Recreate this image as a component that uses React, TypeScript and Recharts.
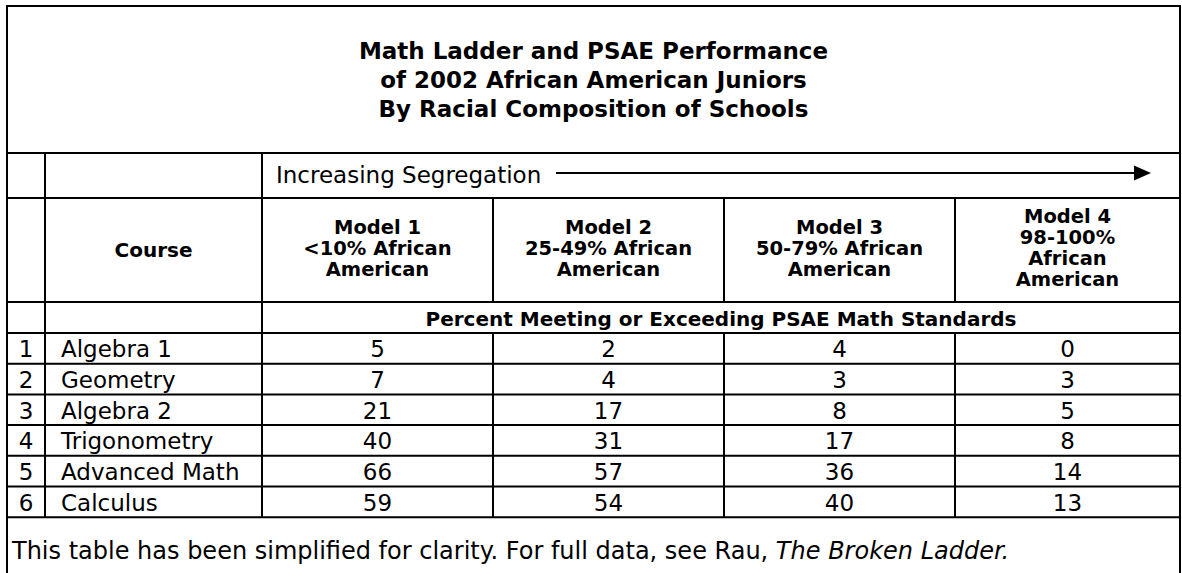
import React from 'react';
import { ComposedChart, Customized } from 'recharts';

const titleLines = [
  'Math Ladder and PSAE Performance',
  'of 2002 African American Juniors',
  'By Racial Composition of Schools',
];
const modelHeaders = [
  ['Model 1', '<10% African', 'American'],
  ['Model 2', '25-49% African', 'American'],
  ['Model 3', '50-79% African', 'American'],
  ['Model 4', '98-100%', 'African', 'American'],
];
const courses = ['Algebra 1', 'Geometry', 'Algebra 2', 'Trigonometry', 'Advanced Math', 'Calculus'];
const model1 = [5, 7, 21, 40, 66, 59];
const model2 = [2, 4, 17, 31, 57, 54];
const model3 = [4, 3, 8, 17, 36, 40];
const model4 = [0, 3, 5, 8, 14, 13];
const subHeader = 'Percent Meeting or Exceeding PSAE Math Standards';
const footnote = 'This table has been simplified for clarity. For full data, see Rau, ';
const footnoteBook = 'The Broken Ladder.';

const W = 1182;
const H = 573;
const FONT = '"DejaVu Sans", Verdana, sans-serif';

// table grid
const L = 7;
const R = 1180;
const TOP = 6;
const colX = [7, 45, 262, 493, 724, 955, 1180];
const yTitle = 153;
const ySeg = 198;
const yHead = 302;
const ySub = 333;
const rowH = 30.7;

const TableLayer = () => {
  const values = [model1, model2, model3, model4];
  const rowsBottom = ySub + rowH * courses.length;
  const line = (x1: number, y1: number, x2: number, y2: number, k: string) => (
    <line key={k} x1={x1} y1={y1} x2={x2} y2={y2} stroke="#000" strokeWidth={2} />
  );
  const lines: React.ReactNode[] = [];
  lines.push(<rect key="box" x={L} y={TOP} width={R - L} height={H + 20} fill="#fff" stroke="#000" strokeWidth={2} />);
  [yTitle, ySeg, yHead, ySub].forEach((y, i) => lines.push(line(L, y, R, y, 'h' + i)));
  courses.forEach((_, i) => {
    const y = ySub + rowH * (i + 1);
    lines.push(line(L, y, R, y, 'r' + i));
  });
  lines.push(line(colX[1], yTitle, colX[1], rowsBottom, 'c1'));
  lines.push(line(colX[2], yTitle, colX[2], rowsBottom, 'c2'));
  [3, 4, 5].forEach((c) => {
    lines.push(line(colX[c], ySeg, colX[c], yHead, 'ca' + c));
    lines.push(line(colX[c], ySub, colX[c], rowsBottom, 'cb' + c));
  });

  const headCy = 248;
  const lh = 21;

  return (
    <g fontFamily={FONT} fill="#000">
      {lines}
      {titleLines.map((t, i) => (
        <text key={t} x={(L + R) / 2} y={51 + i * 29} textAnchor="middle" dominantBaseline="central" fontWeight="bold" fontSize={23}>
          {t}
        </text>
      ))}
      <text x={276} y={175} dominantBaseline="central" fontSize={23}>
        Increasing Segregation
      </text>
      <line x1={556} y1={173} x2={1137} y2={173} stroke="#000" strokeWidth={2} />
      <polygon points="1134,165.5 1151,173 1134,180.5" fill="#000" />
      <text x={(colX[1] + colX[2]) / 2} y={250} textAnchor="middle" dominantBaseline="central" fontWeight="bold" fontSize={20}>
        Course
      </text>
      {modelHeaders.map((h, c) => {
        const cx = (colX[c + 2] + colX[c + 3]) / 2;
        const y0 = headCy - ((h.length - 1) * lh) / 2;
        return h.map((t, j) => (
          <text key={c + '-' + j} x={cx} y={y0 + j * lh} textAnchor="middle" dominantBaseline="central" fontWeight="bold" fontSize={19.5}>
            {t}
          </text>
        ));
      })}
      <text x={(colX[2] + R) / 2} y={(yHead + ySub) / 2 + 1} textAnchor="middle" dominantBaseline="central" fontWeight="bold" fontSize={20}>
        {subHeader}
      </text>
      {courses.map((name, i) => {
        const cy = ySub + rowH * i + rowH / 2 + 1;
        return (
          <g key={name}>
            <text x={(colX[0] + colX[1]) / 2} y={cy} textAnchor="middle" dominantBaseline="central" fontSize={23}>
              {i + 1}
            </text>
            <text x={61} y={cy} dominantBaseline="central" fontSize={23}>
              {name}
            </text>
            {values.map((v, c) => (
              <text key={c} x={(colX[c + 2] + colX[c + 3]) / 2} y={cy} textAnchor="middle" dominantBaseline="central" fontSize={23}>
                {v[i]}
              </text>
            ))}
          </g>
        );
      })}
      <text x={12} y={551} dominantBaseline="central" fontSize={24}>
        {footnote}
        <tspan fontStyle="italic">{footnoteBook}</tspan>
      </text>
    </g>
  );
};

export default function App() {
  return (
    <div style={{ position: 'absolute', left: 0, top: 0, background: '#fff' }}>
      <ComposedChart width={W} height={H} data={courses.map((c) => ({ course: c }))} margin={{ top: 0, right: 0, bottom: 0, left: 0 }}>
        <Customized component={<TableLayer />} />
      </ComposedChart>
    </div>
  );
}
